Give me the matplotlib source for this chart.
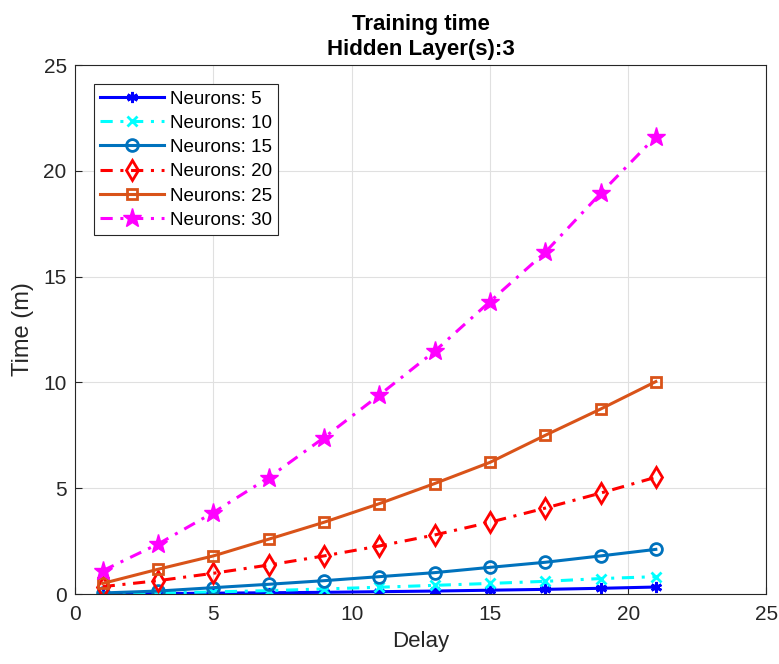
import numpy as np
import matplotlib.pyplot as plt

plt.rcParams['font.family'] = ['Liberation Sans', 'DejaVu Sans']

delay = [1, 3, 5, 7, 9, 11, 13, 15, 17, 19, 21]
t5 = [0.01, 0.02, 0.04, 0.06, 0.08, 0.11, 0.14, 0.18, 0.22, 0.27, 0.33]
t10 = [0.02, 0.05, 0.10, 0.16, 0.24, 0.32, 0.41, 0.50, 0.60, 0.73, 0.82]
t15 = [0.05, 0.14, 0.30, 0.46, 0.63, 0.82, 1.01, 1.26, 1.50, 1.80, 2.11]
t20 = [0.35, 0.63, 0.98, 1.37, 1.80, 2.27, 2.79, 3.39, 4.06, 4.77, 5.52]
t25 = [0.50, 1.17, 1.80, 2.59, 3.39, 4.27, 5.22, 6.22, 7.50, 8.74, 10.04]
t30 = [1.10, 2.36, 3.85, 5.50, 7.39, 9.40, 11.47, 13.82, 16.15, 18.93, 21.62]

dark = (0.15, 0.15, 0.15)
dd = [4, 2.5, 1, 2.5]

fig = plt.figure(figsize=(7.79, 6.64), dpi=100)
ax = fig.add_axes([0.0963, 0.1054, 0.8876, 0.7966])

lw = 2.2
ax.plot(delay, t5, '-', color=(0, 0, 1), marker=(6, 2, 0), ms=8, mew=2, lw=lw, label='Neurons: 5')
ax.plot(delay, t10, color=(0, 1, 1), ls=(0, dd), marker='x', ms=6.5, mew=2, lw=lw, label='Neurons: 10')
ax.plot(delay, t15, '-', color=(0, 0.447, 0.741), marker='o', ms=8.5, mew=2, mfc='none', lw=lw, label='Neurons: 15')
ax.plot(delay, t20, color=(1, 0, 0), ls=(0, dd), marker='d', ms=10.5, mew=2, mfc='none', lw=lw, label='Neurons: 20')
ax.plot(delay, t25, '-', color=(0.85, 0.325, 0.098), marker='s', ms=7.5, mew=2, mfc='none', lw=lw, label='Neurons: 25')
ax.plot(delay, t30, color=(1, 0, 1), ls=(0, dd), marker='*', ms=14, lw=lw, label='Neurons: 30')

ax.set_xlim(0, 25)
ax.set_ylim(0, 25)
ax.set_xticks([0, 5, 10, 15, 20, 25])
ax.set_yticks([0, 5, 10, 15, 20, 25])
ax.grid(True, color=(0.88, 0.88, 0.88), lw=0.8)
ax.set_axisbelow(True)
ax.tick_params(direction='in', labelsize=15, colors=dark, length=5)
ax.tick_params(axis='x', pad=8)
ax.tick_params(axis='y', pad=6)
for s in ax.spines.values():
    s.set_color(dark)
    s.set_linewidth(0.8)

ax.set_xlabel('Delay', fontsize=16, color=dark, labelpad=5)
ax.set_ylabel('Time (m)', fontsize=17, color=dark, labelpad=7)
ax.set_title('Training time\nHidden Layer(s):3', fontsize=16, fontweight='bold',
             linespacing=1.3, pad=7)

leg = ax.legend(loc='upper left', fontsize=13.5, handlelength=3.4, borderaxespad=1.0,
                fancybox=False, framealpha=1, edgecolor=dark,
                labelspacing=0.38, handletextpad=0.3, borderpad=0.35)
leg.get_frame().set_linewidth(0.8)

fig.savefig('out.png', dpi=100)
